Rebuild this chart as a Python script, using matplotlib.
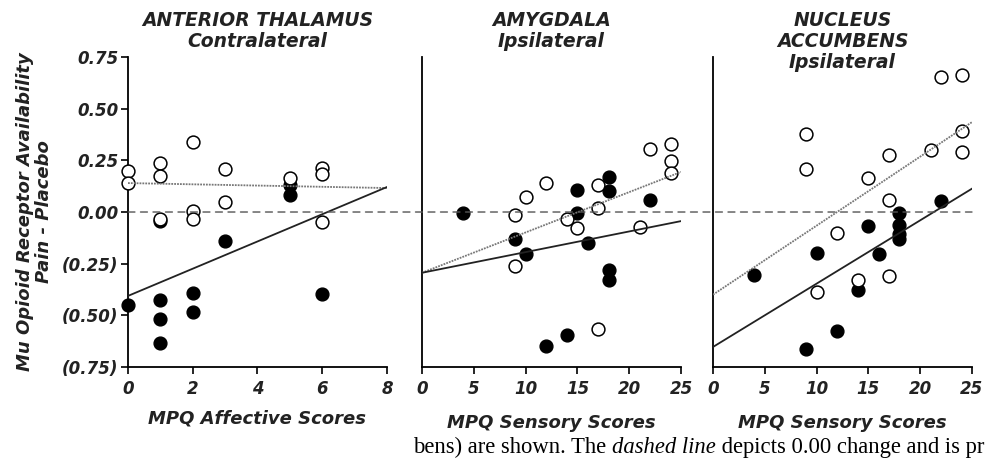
import matplotlib
matplotlib.use("Agg")
import matplotlib.pyplot as plt
from matplotlib.patches import ConnectionPatch
from matplotlib import transforms
import numpy as np

plt.rcParams["font.family"] = ["DejaVu Sans"]

# ---- data ----
# anterior thalamus (contralateral), x = MPQ affective
thal_open_x = [0, 0, 1, 1, 1, 2, 2, 2, 3, 3, 5, 6, 6, 6]
thal_open_y = [0.198, 0.14, 0.239, 0.174, -0.032, 0.339, 0.005, -0.032,
               0.206, 0.047, 0.165, 0.213, 0.185, -0.048]
thal_fill_x = [0, 1, 1, 1, 1, 2, 2, 3, 5, 5, 6]
thal_fill_y = [-0.452, -0.045, -0.424, -0.516, -0.634, -0.39, -0.484,
               -0.142, 0.129, 0.081, -0.395]

# amygdala (ipsilateral), x = MPQ sensory
amyg_open_x = [9, 10, 12, 14, 15, 17, 17, 17, 9, 21, 22, 24, 24, 24]
amyg_open_y = [-0.016, 0.073, 0.14, -0.032, -0.077, 0.132, 0.021, -0.565,
               -0.261, -0.073, 0.306, 0.331, 0.245, 0.19]
amyg_fill_x = [4, 9, 10, 12, 14, 15, 15, 16, 18, 18, 18, 18, 22]
amyg_fill_y = [-0.003, -0.132, -0.205, -0.648, -0.597, 0.105, -0.005,
               -0.148, 0.169, 0.1, -0.282, -0.331, 0.056]

# nucleus accumbens (ipsilateral), x = MPQ sensory
nacc_open_x = [9, 9, 10, 12, 14, 15, 17, 17, 17, 21, 22, 24, 24, 24]
nacc_open_y = [0.379, 0.21, -0.387, -0.1, -0.327, 0.165, 0.277, 0.056,
               -0.311, 0.298, 0.653, 0.661, 0.392, 0.29]
nacc_fill_x = [4, 9, 10, 12, 14, 15, 16, 18, 18, 18, 18, 22]
nacc_fill_y = [-0.303, -0.665, -0.197, -0.577, -0.376, -0.069, -0.205,
               -0.003, -0.065, -0.105, -0.129, 0.053]

# fitted lines: (intercept, value at right end of axis)
thal_open_fit = [0.14, 0.116]
thal_fill_fit = [-0.406, 0.121]
amyg_open_fit = [-0.294, 0.194]
amyg_fill_fit = [-0.294, -0.044]
nacc_open_fit = [-0.40, 0.435]
nacc_fill_fit = [-0.653, 0.113]

y_ticks = [0.75, 0.50, 0.25, 0.0, -0.25, -0.50, -0.75]
y_tick_labels = ["0.75", "0.50", "0.25", "0.00", "(0.25)", "(0.50)", "(0.75)"]

panels = [
    ("ANTERIOR THALAMUS\nContralateral", "MPQ Affective Scores", 8, [0, 2, 4, 6, 8],
     thal_open_x, thal_open_y, thal_fill_x, thal_fill_y, thal_open_fit, thal_fill_fit),
    ("AMYGDALA\nIpsilateral", "MPQ Sensory Scores", 25, [0, 5, 10, 15, 20, 25],
     amyg_open_x, amyg_open_y, amyg_fill_x, amyg_fill_y, amyg_open_fit, amyg_fill_fit),
    ("NUCLEUS\nACCUMBENS\nIpsilateral", "MPQ Sensory Scores", 25, [0, 5, 10, 15, 20, 25],
     nacc_open_x, nacc_open_y, nacc_fill_x, nacc_fill_y, nacc_open_fit, nacc_fill_fit),
]

bi = dict(fontweight="bold", fontstyle="italic", color="#222222")

fig = plt.figure(figsize=(9.86, 4.59), dpi=100)
lefts = [0.1298, 0.428, 0.7231]
axes = []
for i, (title, xlabel, xmax, xticks, ox, oy, fx, fy, ofit, ffit) in enumerate(panels):
    ax = fig.add_axes([lefts[i], 0.2004, 0.2627, 0.6754])
    axes.append(ax)
    ax.set_xlim(0, xmax)
    ax.set_ylim(-0.75, 0.75)
    for s in ["top", "right"]:
        ax.spines[s].set_visible(False)
    ax.spines["left"].set_linewidth(1.3)
    ax.spines["bottom"].set_linewidth(1.3)

    ax.set_xticks(xticks)
    ax.set_xticklabels([str(t) for t in xticks], fontsize=12, **bi)
    ax.tick_params(axis="x", direction="out", length=5, width=1.2, pad=4)

    if i == 0:
        ax.set_yticks(y_ticks)
        ax.set_yticklabels(y_tick_labels, fontsize=12, **bi)
        ax.tick_params(axis="y", direction="out", length=5, width=1.2, pad=2)
        ax.set_ylabel("Mu Opioid Receptor Availability\nPain - Placebo",
                      fontsize=13, labelpad=6, linespacing=1.1, **bi)
        ax.set_xlabel(xlabel, fontsize=13, labelpad=8.5, **bi)
    else:
        ax.set_yticks([])
        ax.set_xlabel(xlabel, fontsize=13, labelpad=12, **bi)

    # titles are top-aligned at the same height in every panel
    trans = transforms.blended_transform_factory(ax.transAxes, fig.transFigure)
    ax.text(0.5, 0.975, title, transform=trans, ha="center", va="top",
            fontsize=13.5, linespacing=1.12, zorder=6, **bi)

    ax.scatter(fx, fy, s=85, color="black", edgecolors="black", linewidths=1,
               zorder=3, clip_on=False)
    ax.scatter(ox, oy, s=85, facecolors="white", edgecolors="black", linewidths=1.1,
               zorder=4, clip_on=False)

    # regression lines run over the markers
    ax.plot([0, xmax], ofit, color="#777777", lw=1.3, ls=(0, (1, 0.6)), zorder=5)
    ax.plot([0, xmax], ffit, color="#222222", lw=1.3, zorder=5)

# zero-change reference line spanning all panels
zero = ConnectionPatch(xyA=(0, 0), coordsA=axes[0].transData,
                       xyB=(25, 0), coordsB=axes[2].transData,
                       color="#555555", lw=1.0, ls=(0, (5, 4)), zorder=1)
fig.add_artist(zero)

# clipped caption below the figure
renderer = fig.canvas.get_renderer()
parts = [("bens) are shown. The ", "normal"), ("dashed line", "italic"),
         (" depicts 0.00 change and is pr", "normal")]
x0 = 0.419
for txt, style in parts:
    t = fig.text(x0, 0.014, txt, fontsize=16.3, family="Liberation Serif",
                 fontstyle=style, ha="left", va="baseline")
    bb = t.get_window_extent(renderer=renderer)
    x0 += bb.width / fig.bbox.width

fig.savefig("out.png", dpi=100)
